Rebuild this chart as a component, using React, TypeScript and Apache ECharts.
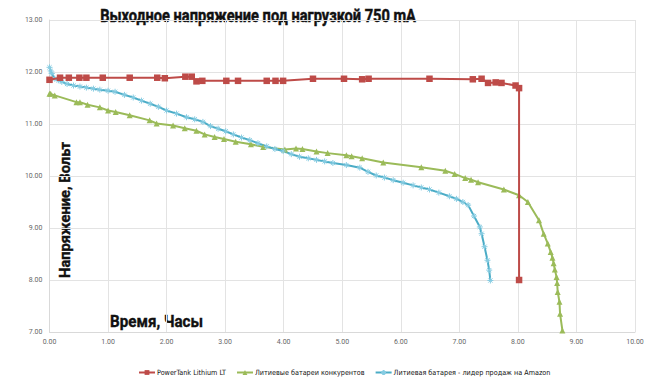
import React, { useEffect, useRef } from "react";
import * as echarts from "echarts";

const titleText = "Выходное напряжение под нагрузкой 750 mA";
const yAxisTitle = "Напряжение, Вольт";
const xAxisTitle = "Время, Часы";
const seriesNames = [
  "PowerTank Lithium LT",
  "Литиевые батареи конкурентов",
  "Литиевая батарея - лидер продаж на Amazon",
];

const redT = [0.00,0.18,0.33,0.51,0.63,0.91,1.37,1.84,1.97,2.32,2.43,2.51,2.61,3.02,3.22,3.71,3.86,3.99,4.50,5.03,5.34,5.45,6.49,7.23,7.38,7.49,7.62,7.72,7.96,8.02,8.02];
const redV = [11.85,11.89,11.89,11.89,11.89,11.89,11.89,11.89,11.88,11.91,11.91,11.82,11.83,11.83,11.83,11.83,11.83,11.83,11.87,11.87,11.86,11.87,11.87,11.86,11.87,11.79,11.80,11.79,11.74,11.69,8.00];

const greenT = [0.00,0.02,0.09,0.46,0.52,0.65,0.86,1.00,1.13,1.37,1.71,1.83,2.11,2.31,2.51,2.65,2.82,2.98,3.18,3.44,3.65,4.02,4.21,4.32,4.56,4.75,5.07,5.16,5.34,5.70,6.35,6.76,6.92,7.10,7.20,7.32,7.76,8.02,8.17,8.36,8.44,8.51,8.56,8.59,8.61,8.63,8.66,8.67,8.68,8.71,8.72,8.76];
const greenV = [11.58,11.58,11.55,11.42,11.42,11.37,11.32,11.26,11.23,11.17,11.07,11.01,10.97,10.92,10.87,10.80,10.75,10.71,10.66,10.61,10.56,10.51,10.53,10.52,10.47,10.44,10.40,10.38,10.34,10.26,10.17,10.10,10.04,9.96,9.93,9.88,9.74,9.63,9.50,9.15,8.89,8.70,8.54,8.43,8.32,8.20,8.06,7.94,7.77,7.58,7.35,7.03];

const blueT = [0.00,0.02,0.04,0.09,0.15,0.21,0.30,0.41,0.52,0.63,0.75,0.86,1.00,1.12,1.28,1.43,1.57,1.72,1.86,2.00,2.17,2.34,2.48,2.62,2.75,2.88,3.01,3.14,3.28,3.42,3.56,3.71,3.85,3.99,4.13,4.27,4.42,4.56,4.70,4.84,5.07,5.30,5.44,5.58,5.72,5.87,6.04,6.21,6.35,6.49,6.65,6.83,6.95,7.06,7.15,7.25,7.35,7.38,7.43,7.48,7.51,7.53];
const blueV = [12.09,12.02,11.97,11.87,11.84,11.81,11.77,11.74,11.72,11.70,11.68,11.66,11.64,11.62,11.56,11.51,11.45,11.39,11.33,11.26,11.20,11.13,11.09,11.04,10.96,10.91,10.86,10.80,10.74,10.69,10.63,10.57,10.52,10.48,10.42,10.37,10.34,10.31,10.28,10.25,10.21,10.16,10.08,10.01,9.97,9.92,9.87,9.82,9.78,9.74,9.68,9.61,9.56,9.50,9.44,9.23,9.02,8.89,8.64,8.38,8.19,7.99];

const colors = ["#BE4B48", "#9BBB59", "#4BACC6"];
const blueMarker = "#86CCE2";
const asterisk = "path://M5,0L5,10M0,5L10,5M1.5,1.5L8.5,8.5M1.5,8.5L8.5,1.5";

function zip(a: number[], b: number[]) {
  return a.map((t, i) => [t, b[i]]);
}

function measure(text: string, font: string) {
  const c = document.createElement("canvas").getContext("2d");
  if (!c) return 100;
  c.font = font;
  return c.measureText(text).width;
}

function hasFont(name: string) {
  const s = "PowerTank Lithium Выходное";
  return measure(s, `12px '${name}', monospace`) !== measure(s, "12px monospace");
}

export default function App() {
  const ref = useRef<HTMLDivElement>(null);
  useEffect(() => {
    document.body.style.margin = "0";
    const chart = echarts.init(ref.current!, null, { renderer: "svg" });
    const narrow = hasFont("Liberation Sans Narrow")
      ? "'Liberation Sans Narrow'"
      : hasFont("DejaVu Sans Condensed")
      ? "'DejaVu Sans Condensed'"
      : "Roboto";
    const legW = seriesNames.reduce((s, n) => s + measure(n, `8px ${narrow}`), 0);
    const legSize = Math.min(9, (8 * 336) / legW);
    const titleFont = "bold 18px Roboto";
    const tW = measure(titleText, titleFont);
    const yFont = "bold 15px Roboto";
    const yW = measure(yAxisTitle, yFont);
    const xFont = "bold 17px Roboto";
    const xW = measure(xAxisTitle, xFont);
    chart.setOption({
      animation: false,
      backgroundColor: "#ffffff",
      grid: { left: 49.5, right: 15, top: 20, bottom: 51 },
      xAxis: {
        type: "value",
        min: 0,
        max: 10,
        interval: 1,
        axisLine: { show: true, lineStyle: { color: "#D9D9D9" } },
        axisTick: { show: false },
        splitLine: { show: true, lineStyle: { color: "#E3E3E3" } },
        axisLabel: { formatter: (v: number) => v.toFixed(2), fontSize: 7, color: "#666", margin: 6, fontFamily: "Roboto" },
      },
      yAxis: {
        type: "value",
        min: 7,
        max: 13,
        interval: 1,
        axisLine: { show: true, lineStyle: { color: "#D9D9D9" } },
        axisTick: { show: false },
        splitLine: { show: true, lineStyle: { color: "#E3E3E3" } },
        axisLabel: { formatter: (v: number) => v.toFixed(2), fontSize: 7, color: "#666", margin: 7, fontFamily: "Roboto" },
      },
      legend: {
        top: 364,
        left: 133,
        width: 517,
        itemWidth: 16,
        itemHeight: 6,
        itemGap: 10,
        textStyle: { fontSize: legSize, color: "#111", fontFamily: narrow, padding: [0, 0, 0, -3] },
        data: seriesNames,
      },
      series: [
        {
          name: seriesNames[0],
          type: "line",
          data: zip(redT, redV),
          symbol: "rect",
          symbolSize: 6.5,
          lineStyle: { color: colors[0], width: 2 },
          itemStyle: { color: colors[0] },
          z: 3,
        },
        {
          name: seriesNames[1],
          type: "line",
          data: zip(greenT, greenV),
          symbol: "triangle",
          symbolSize: 6,
          lineStyle: { color: colors[1], width: 2 },
          itemStyle: { color: colors[1] },
          z: 2,
        },
        {
          name: seriesNames[2],
          type: "line",
          data: zip(blueT, blueV),
          symbol: asterisk,
          symbolSize: 6,
          lineStyle: { color: colors[2], width: 2 },
          itemStyle: { color: blueMarker, borderColor: blueMarker, borderWidth: 1 },
          z: 2,
        },
      ],
      graphic: [
        {
          type: "text",
          x: 258,
          y: 16,
          scaleX: 316 / tW,
          style: { text: titleText, font: titleFont, fill: "#111", stroke: "#111", lineWidth: 0.5, align: "center", verticalAlign: "middle" },
        },
        {
          type: "text",
          x: 65,
          y: 210,
          rotation: Math.PI / 2,
          scaleX: 136 / yW,
          style: { text: yAxisTitle, font: yFont, fill: "#111", stroke: "#111", lineWidth: 0.4, align: "center", verticalAlign: "middle" },
        },
        {
          type: "text",
          x: 156.5,
          y: 321,
          scaleX: 93 / xW,
          style: { text: xAxisTitle, font: xFont, fill: "#111", stroke: "#111", lineWidth: 0.4, align: "center", verticalAlign: "middle" },
        },
      ],
    });
    return () => chart.dispose();
  }, []);
  return <div ref={ref} style={{ position: "fixed", left: 0, top: 0, width: 650, height: 383 }} />;
}
